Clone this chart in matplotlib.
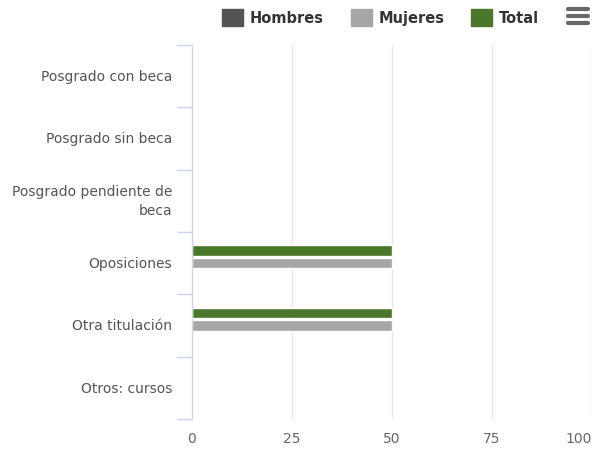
import matplotlib
matplotlib.use("Agg")
import matplotlib.pyplot as plt
from matplotlib.patches import Rectangle
from matplotlib.lines import Line2D
import numpy as np

categories = [
    "Posgrado con beca",
    "Posgrado sin beca",
    "Posgrado pendiente de\nbeca",
    "Oposiciones",
    "Otra titulación",
    "Otros: cursos",
]
hombres = [0, 0, 0, 0, 0, 0]
mujeres = [0, 0, 0, 50, 50, 0]
total = [0, 0, 0, 50, 50, 0]
x_ticks = [0, 25, 50, 75, 100]

series = [
    ("Hombres", hombres, "#545454"),
    ("Mujeres", mujeres, "#a6a6a6"),
    ("Total", total, "#4a7729"),
]

W, H = 593, 452
fig = plt.figure(figsize=(W / 100, H / 100), dpi=100)
ax = fig.add_axes([192 / W, 32 / H, 400 / W, 374 / H])

y = np.arange(len(categories))
bar_h = 0.165
offsets = {"Total": -0.205, "Mujeres": 0.0, "Hombres": 0.205}
for name, vals, col in series:
    vals = np.array(vals, dtype=float)
    lw = np.where(vals > 0, 1.0, 0.0)
    ax.barh(y + offsets[name], vals, height=bar_h, color=col,
            edgecolor="white", linewidth=lw, zorder=3)

ax.set_xlim(0, 100)
ax.set_ylim(len(categories) - 0.5, -0.5)

for v in x_ticks[1:]:
    ax.axvline(v, color="#e6e6e6", linewidth=1, zorder=1)

for s in ["top", "right", "bottom"]:
    ax.spines[s].set_visible(False)
ax.spines["left"].set_color("#ccd6eb")
ax.spines["left"].set_linewidth(1)
ax.spines["left"].set_zorder(5)

ax.set_xticks(x_ticks)
ax.set_xticklabels([str(v) for v in x_ticks], color="#666666", fontsize=10)
ax.get_xticklabels()[-1].set_horizontalalignment("right")
ax.tick_params(axis="x", length=0, pad=9)

ax.set_yticks(np.arange(len(categories) + 1) - 0.5)
ax.set_yticklabels([])
ax.tick_params(axis="y", length=11, color="#ccd6eb", width=1)
for i, lab in enumerate(categories):
    ax.text(-0.05, i, lab, transform=ax.get_yaxis_transform(),
            ha="right", va="center", fontsize=10, color="#555555",
            multialignment="right", linespacing=1.45)

# legend
fig_tr = fig.transFigure
items = [("Hombres", "#545454", 222), ("Mujeres", "#a6a6a6", 351), ("Total", "#4a7729", 471)]
for name, col, x0 in items:
    fig.patches.append(Rectangle((x0 / W, (H - 27) / H), 21 / W, 17 / H,
                                 transform=fig_tr, color=col))
    fig.text((x0 + 28) / W, (H - 18.5) / H, name, fontsize=10.5, fontweight="bold",
             color="#333333", va="center", ha="left")

# menu icon
for yy in [10, 17, 24]:
    fig.lines.append(Line2D([568 / W, 588 / W], [(H - yy) / H] * 2, transform=fig_tr,
                            color="#666666", linewidth=3, solid_capstyle="round"))

fig.savefig("out.png", dpi=100)
